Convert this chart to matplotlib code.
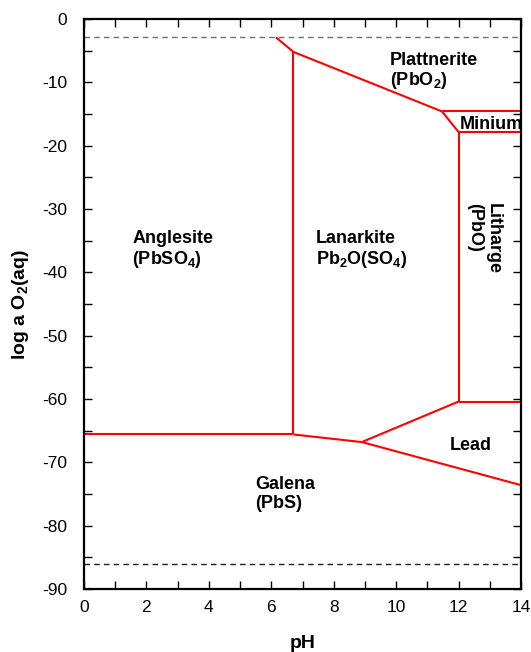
import numpy as np
import matplotlib
matplotlib.use("Agg")
import matplotlib.pyplot as plt

plt.rcParams['font.family'] = ['Liberation Sans', 'DejaVu Sans']
plt.rcParams['mathtext.fontset'] = 'custom'
plt.rcParams['mathtext.rm'] = 'Liberation Sans'
plt.rcParams['mathtext.bf'] = 'Liberation Sans:bold'
plt.rcParams['axes.unicode_minus'] = False

# water stability limits (log a O2)
water_upper = -2.9
water_lower = -86.0

# field boundaries, each one a polyline of (pH, log a O2)
boundaries = [
    ([6.15, 6.71], [-2.9, -5.2]),
    ([6.71, 11.47], [-5.2, -14.6]),
    ([11.47, 14.0], [-14.6, -14.6]),
    ([11.47, 12.0], [-14.6, -17.85]),
    ([12.0, 14.0], [-17.85, -17.85]),
    ([12.0, 12.0], [-17.85, -60.4]),
    ([12.0, 14.0], [-60.4, -60.4]),
    ([6.71, 6.71], [-5.2, -65.6]),
    ([0.0, 6.71], [-65.6, -65.6]),
    ([6.71, 8.9], [-65.6, -66.8]),
    ([8.9, 12.0], [-66.8, -60.4]),
    ([8.9, 14.0], [-66.8, -73.6]),
]

# field labels: text, pH, log a O2
labels = [
    ("Plattnerite\n(PbO$_\\mathbf{2}$)", 9.8, -8.3),
    ("Minium", 12.03, -16.6),
    ("Anglesite\n(PbSO$_\\mathbf{4}$)", 1.54, -36.5),
    ("Lanarkite\nPb$_\\mathbf{2}$O(SO$_\\mathbf{4}$)", 7.42, -36.5),
    ("Lead", 11.73, -67.3),
    ("Galena\n(PbS)", 5.48, -75.0),
]

fig = plt.figure(figsize=(5.31, 6.52), dpi=100)
ax = fig.add_axes([84 / 531, 1 - 589 / 652, 437 / 531, 570 / 652])

ax.axhline(water_upper, color='#707070', lw=1, ls=(0, (4, 3)))
ax.axhline(water_lower, color='#202020', lw=1, ls=(0, (4, 3)))

for xs, ys in boundaries:
    ax.plot(xs, ys, color='red', lw=1.5, solid_capstyle='butt')

for txt, x, y in labels:
    ax.text(x, y, txt, ha='left', va='center', fontsize=13, fontweight='bold',
            linespacing=1.1)

ax.text(12.82, -34.6, "Litharge\n(PbO)", rotation=270, ha='center', va='center',
        multialignment='left', fontsize=13, fontweight='bold', linespacing=1.1)

ax.set_xlim(0, 14)
ax.set_ylim(-90, 0)
ax.set_xticks(np.arange(0, 15, 2))
ax.set_xticks(np.arange(0, 15, 1), minor=True)
ax.set_yticks(np.arange(-90, 1, 10))
ax.set_yticks(np.arange(-90, 1, 5), minor=True)
ax.tick_params(which='both', direction='in', top=True, right=True, length=6,
               width=1, labelsize=12.5)
ax.tick_params(axis='x', pad=8)
ax.tick_params(axis='y', pad=12)
for s in ax.spines.values():
    s.set_linewidth(1.6)

ax.set_xlabel('pH', fontsize=14, fontweight='bold', labelpad=14)
ax.set_ylabel('log a O$_\\mathbf{2}$(aq)', fontsize=14, fontweight='bold', labelpad=8)

fig.savefig('out.png', dpi=100)
